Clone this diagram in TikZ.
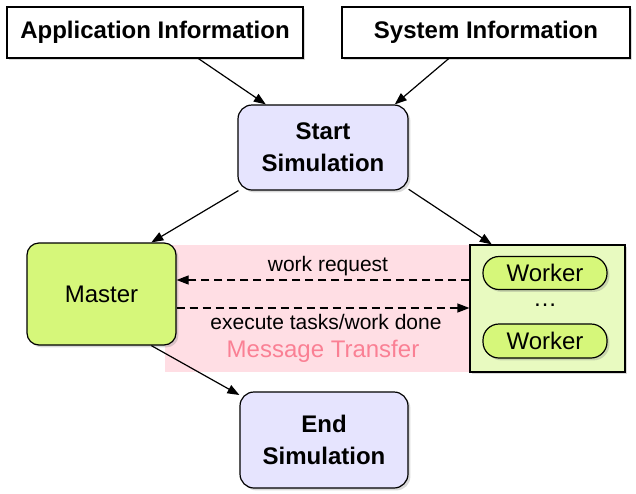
\documentclass[tikz,border=0pt]{standalone}
\usepackage{fontspec}
\setmainfont{Liberation Sans}
\usetikzlibrary{shadows,arrows.meta}
\definecolor{simfill}{RGB}{230,228,254}
\definecolor{nodegreen}{RGB}{214,247,122}
\definecolor{groupgreen}{RGB}{232,250,192}
\definecolor{msgpink}{RGB}{255,222,228}
\definecolor{msgtext}{RGB}{250,128,148}

\begin{document}
\begin{tikzpicture}[x=0.5pt,y=-0.5pt]
\tikzstyle{every node}+=[inner sep=0pt]
\tikzstyle{shade}=[drop shadow={shadow xshift=1.2pt,shadow yshift=-1.2pt,opacity=0.3}]
\tikzstyle{infobox}=[draw=black,line width=0.6pt,fill=white,font=\fontsize{12}{14}\selectfont\bfseries,shade]
\tikzstyle{simbox}=[draw=black,line width=0.6pt,fill=simfill,rounded corners=7pt,
  minimum width=85pt,align=center,font=\fontsize{12}{14}\selectfont\bfseries,shade]
\tikzstyle{greenbox}=[draw=black,line width=0.6pt,fill=nodegreen,rounded corners=6pt,
  font=\fontsize{12}{14}\selectfont,shade]
\tikzstyle{arr}=[-{Triangle[length=6pt,width=4.5pt]},line width=0.6pt]
\tikzstyle{dasharr}=[arr,dashed,dash pattern=on 4pt off 2.5pt]
\useasboundingbox (0,0) rectangle (636,493);
% message area behind master and workers
\fill [msgpink] (165,245) rectangle (475,372);
\node (msg) at (323,351) [text=msgtext,font=\fontsize{12}{14}\selectfont] {Message Transfer};
% input boxes
\node (app) at (155,32.5) [infobox,minimum width=148pt,minimum height=25.5pt] {Application Information};
\node (sys) at (486,32.5) [infobox,minimum width=144pt,minimum height=25.5pt] {System Information};
% simulation start and end
\node (start) at (323,147.5) [simbox,minimum height=42.5pt] {Start\\[2pt]Simulation};
\node (end) at (324,440) [simbox,minimum width=84pt,minimum height=48pt] {End\\[2pt]Simulation};
% master and workers
\node (master) at (101.5,294) [greenbox,minimum width=74.5pt,minimum height=51pt] {Master};
\node (group) at (547.5,308.5) [draw=black,line width=0.6pt,fill=groupgreen,minimum width=77.5pt,minimum height=63.5pt,shade] {};
\node (w1) at (545,273) [greenbox,rounded corners=8pt,minimum width=62pt,minimum height=16.5pt] {Worker};
\node (dots) at (545,305) [font=\fontsize{12}{14}\selectfont] {\dots};
\node (w2) at (545,341) [greenbox,rounded corners=8pt,minimum width=62pt,minimum height=17pt] {Worker};
% arrows
\draw [arr] (app.-31) -- (start.143);
\draw [arr] (sys.-145) -- (start.31);
\draw [arr] (start.-153) -- (master.46);
\draw [arr] (start.-26) -- (group.131);
\draw [arr] (master.-46) -- (end.152);
\coordinate (req) at (0,280);
\coordinate (exe) at (0,308);
\draw [dasharr] (group.west |- req) -- (master.east |- req);
\draw [dasharr] (master.east |- exe) -- (group.west |- exe);
\node (reqlbl) at (328,266) [font=\fontsize{10.5}{12}\selectfont] {work request};
\node (exelbl) at (326,322) [font=\fontsize{10.5}{12}\selectfont] {execute tasks/work done};
\end{tikzpicture}
\end{document}
